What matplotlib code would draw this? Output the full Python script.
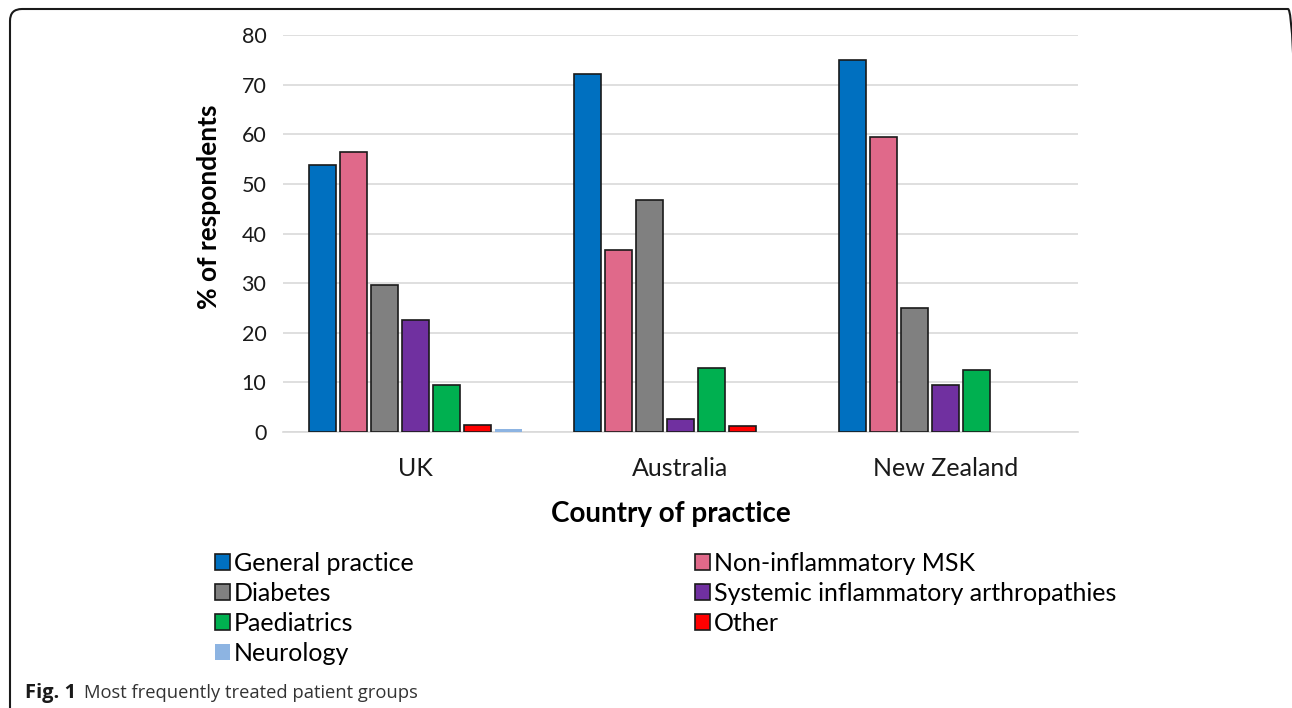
# -*- coding: utf-8 -*-
# Most frequently treated patient groups, by country of practice
import matplotlib
matplotlib.use('Agg')
import matplotlib.pyplot as plt
import matplotlib.patches as patches
from matplotlib.transforms import IdentityTransform
import numpy as np

plt.rcParams['font.family'] = ['Lato', 'DejaVu Sans']

# Datos
countries = ['UK', 'Australia', 'New Zealand']
groups = ['General practice', 'Non-inflammatory MSK', 'Diabetes',
          'Systemic inflammatory arthropathies', 'Paediatrics', 'Other', 'Neurology']
general_practice = [53.8, 72.2, 75.0]
non_inflammatory_msk = [56.5, 36.6, 59.4]
diabetes = [29.7, 46.7, 25.0]
systemic_arthropathies = [22.5, 2.7, 9.4]
paediatrics = [9.5, 12.8, 12.5]
other = [1.4, 1.3, 0]
neurology = [0.6, 0, 0]

series = [general_practice, non_inflammatory_msk, diabetes,
          systemic_arthropathies, paediatrics, other, neurology]
colors = ['#0070C0', '#E0698A', '#808080', '#7030A0', '#00B050', '#FF0000', '#8DB4E2']
edges = ['#1a1a1a'] * 6 + ['none']

fig = plt.figure(figsize=(12.92, 7.08), dpi=100)
ax = fig.add_axes([283/1292, 1 - 432/708, (1078-283)/1292, (432-35)/708])

x = np.arange(len(countries))
pitch = 0.117
width = 0.1
handles = []
for i, (vals, c, ec) in enumerate(zip(series, colors, edges)):
    lw = [1.2 if v > 0 else 0 for v in vals]
    ax.bar(x + (i - 3) * pitch, vals, width, color=c, edgecolor=ec,
           linewidth=lw, label=groups[i], zorder=3)
    handles.append(patches.Patch(facecolor=c, edgecolor=ec, linewidth=1.2))

ax.set_xlim(-0.5, 2.5)
ax.set_ylim(0, 80)
ax.set_yticks(range(0, 81, 10))
ax.set_xticks(x)
ax.set_xticklabels(countries)
ax.tick_params(axis='both', length=0, labelsize=15.5, colors='#1a1a1a')
ax.tick_params(axis='x', pad=18, labelsize=18)
ax.tick_params(axis='y', pad=12)
ax.grid(axis='y', color='#d9d9d9', linewidth=1.2, zorder=0)
for s in ['top', 'right', 'left']:
    ax.spines[s].set_visible(False)
ax.spines['bottom'].set_color('#d9d9d9')
ax.spines['bottom'].set_linewidth(1.2)

ax.set_ylabel('% of respondents', fontsize=19, fontweight='bold')
ax.yaxis.set_label_coords(-0.078, 0.567)
ax.set_xlabel('Country of practice', fontsize=20, fontweight='bold')
ax.xaxis.set_label_coords(0.488, -0.175)

# Leyenda en dos bloques
kw = dict(frameon=False, fontsize=18, handlelength=0.6, handleheight=0.6,
          handletextpad=0.15, labelspacing=0.28, borderpad=0, borderaxespad=0)
left_idx = [0, 2, 4, 6]
right_idx = [1, 3, 5]
fig.legend([handles[i] for i in left_idx], [groups[i] for i in left_idx],
           loc='upper left', bbox_to_anchor=(215/1292, 1 - 552/708), **kw)
fig.legend([handles[i] for i in right_idx], [groups[i] for i in right_idx],
           loc='upper left', bbox_to_anchor=(695/1292, 1 - 552/708), **kw)

# Marco redondeado
frame = patches.FancyBboxPatch((10, -30), 1290, 708 - 9 + 30,
                               boxstyle='round,pad=0,rounding_size=12',
                               transform=IdentityTransform(), fill=False,
                               edgecolor='#1a1a1a', linewidth=1.5)
fig.add_artist(frame)

# Pie de figura
fig.text(25/1292, 1 - 693/708, 'Fig. 1', fontsize=14.5, fontweight='bold',
         family=['Open Sans', 'DejaVu Sans'], va='center', color='#1a1a1a')
fig.text(84/1292, 1 - 693/708, 'Most frequently treated patient groups', fontsize=13.2,
         family=['Open Sans', 'DejaVu Sans'], va='center', color='#333333')

fig.savefig('out.png', dpi=100)
